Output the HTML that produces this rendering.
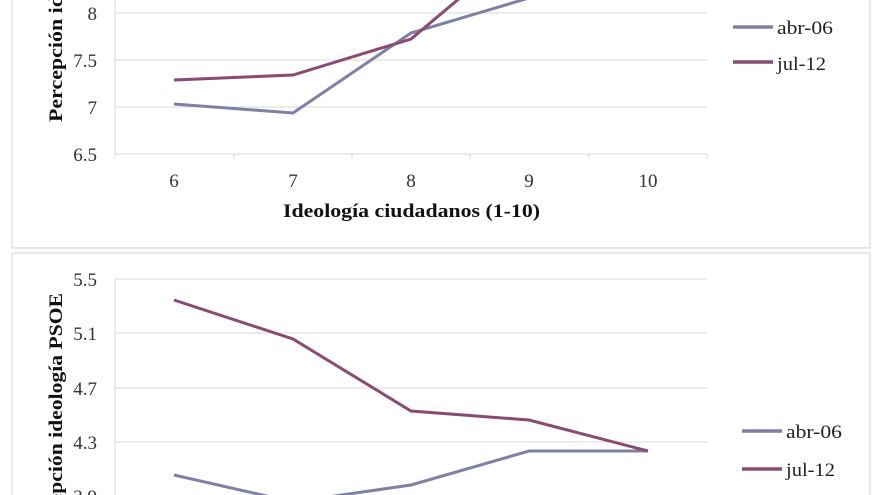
<!DOCTYPE html>
<html><head><meta charset="utf-8"><style>
html,body{margin:0;padding:0;background:#fff;width:880px;height:495px;overflow:hidden;}
svg{display:block;font-family:"Liberation Serif",serif;overflow:hidden;}
</style></head><body>
<svg width="880" height="495" viewBox="0 0 880 495" xmlns="http://www.w3.org/2000/svg">
<rect x="0" y="0" width="880" height="495" fill="#fff"/>
<rect x="12" y="-10" width="858" height="258" fill="#fff" stroke="#d9d9d9" stroke-width="1.2"/>
<rect x="12" y="253" width="858" height="260" fill="#fff" stroke="#d9d9d9" stroke-width="1.2"/>
<g stroke="#d9d9d9" stroke-width="1">
<line x1="115" y1="13" x2="707" y2="13"/>
<line x1="115" y1="60" x2="707" y2="60"/>
<line x1="115" y1="107" x2="707" y2="107"/>
<line x1="115" y1="154" x2="707" y2="154"/>
<line x1="115" y1="0" x2="115" y2="159"/>
<line x1="234" y1="154" x2="234" y2="159"/>
<line x1="352" y1="154" x2="352" y2="159"/>
<line x1="470" y1="154" x2="470" y2="159"/>
<line x1="589" y1="154" x2="589" y2="159"/>
<line x1="707" y1="154" x2="707" y2="159"/>
</g>
<g font-size="19" fill="#333" text-anchor="end">
<text x="97" y="20">8</text><text x="97" y="67">7.5</text><text x="97" y="114">7</text><text x="97" y="161">6.5</text>
</g>
<g font-size="19" fill="#333" text-anchor="middle">
<text x="174" y="187">6</text><text x="293" y="187">7</text><text x="411" y="187">8</text><text x="529" y="187">9</text><text x="648" y="187">10</text>
</g>
<text x="283" y="217" font-size="19" font-weight="bold" fill="#111" textLength="257" lengthAdjust="spacingAndGlyphs">Ideología ciudadanos (1-10)</text>
<text transform="translate(62,122) rotate(-90)" font-size="19" font-weight="bold" fill="#111" textLength="225" lengthAdjust="spacingAndGlyphs">Percepción ideología PP</text>
<polyline points="174,104 293,113 411,33 529,-2 648,-40" fill="none" stroke="#8080a6" stroke-width="3"/>
<polyline points="174,80 293,75 411,39 529,-60" fill="none" stroke="#8b4a70" stroke-width="3"/>
<line x1="733" y1="27" x2="773" y2="27" stroke="#8080a6" stroke-width="3.5"/>
<line x1="733" y1="62" x2="773" y2="62" stroke="#8b4a70" stroke-width="3.5"/>
<text x="777" y="34" font-size="19" fill="#222" textLength="56" lengthAdjust="spacingAndGlyphs">abr-06</text>
<text x="777" y="70" font-size="19" fill="#222" textLength="49" lengthAdjust="spacingAndGlyphs">jul-12</text>
<g stroke="#d9d9d9" stroke-width="1">
<line x1="115" y1="279" x2="707" y2="279"/>
<line x1="115" y1="333" x2="707" y2="333"/>
<line x1="115" y1="388" x2="707" y2="388"/>
<line x1="115" y1="442" x2="707" y2="442"/>
<line x1="115" y1="279" x2="115" y2="495"/>
</g>
<g font-size="19" fill="#333" text-anchor="end">
<text x="97" y="286">5.5</text><text x="97" y="340">5.1</text><text x="97" y="395">4.7</text><text x="97" y="449">4.3</text><text x="97" y="503">3.9</text>
</g>
<text transform="translate(62,293) rotate(-90)" font-size="19" font-weight="bold" fill="#111" text-anchor="end" textLength="252" lengthAdjust="spacingAndGlyphs">Percepción ideología PSOE</text>
<polyline points="174,475 293,502 411,485 529,451 648,451" fill="none" stroke="#8080a6" stroke-width="3"/>
<polyline points="174,300 293,339 411,411 529,420 648,451" fill="none" stroke="#8b4a70" stroke-width="3"/>
<line x1="742" y1="431" x2="782" y2="431" stroke="#8080a6" stroke-width="3.5"/>
<line x1="742" y1="469" x2="782" y2="469" stroke="#8b4a70" stroke-width="3.5"/>
<text x="786" y="438" font-size="19" fill="#222" textLength="56" lengthAdjust="spacingAndGlyphs">abr-06</text>
<text x="786" y="476" font-size="19" fill="#222" textLength="49" lengthAdjust="spacingAndGlyphs">jul-12</text>
</svg>
</body></html>
